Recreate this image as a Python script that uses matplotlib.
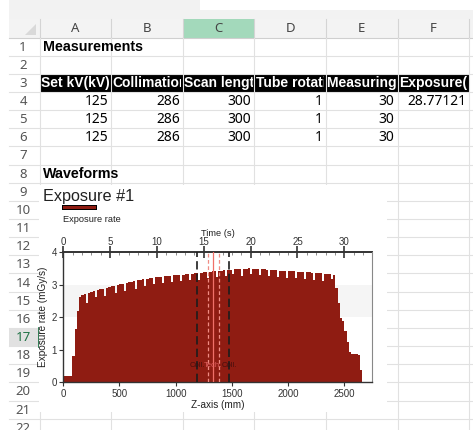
import numpy as np
import matplotlib.pyplot as plt
from matplotlib.patches import Rectangle, Polygon
from matplotlib.lines import Line2D
import matplotlib.patheffects as pe
from matplotlib.ticker import MultipleLocator

W, H = 473, 430

# --- sheet contents ---
col_letters = ['A', 'B', 'C', 'D', 'E', 'F']
header_cells = ['Set kV(kV)', 'Collimation', 'Scan length', 'Tube rotation',
                'Measuring time', 'Exposure(mGy)']
table_rows = [
    ['125', '286', '300', '1', '30', '28.77121'],
    ['125', '286', '300', '1', '30', ''],
    ['125', '286', '300', '1', '30', ''],
]
n_rows = 22

# --- chart data: exposure rate (mGy/s), one value every 20 mm along z ---
z_step = 20
rate = [
    0.18, 0.18, 0.18, 0.19, 0.81, 1.63, 2.20, 2.63, 2.68, 2.72,
    2.45, 2.76, 2.78, 2.80, 2.62, 2.83, 2.86, 2.88, 2.66, 2.91,
    2.93, 2.95, 2.97, 2.75, 3.00, 3.02, 3.04, 2.80, 3.07, 3.08,
    3.10, 3.11, 2.88, 3.14, 3.16, 3.17, 2.95, 3.19, 3.20, 3.21,
    3.02, 3.23, 3.24, 3.25, 3.05, 3.26, 3.27, 3.28, 3.10, 3.29,
    3.30, 3.30, 3.12, 3.31, 3.32, 3.33, 3.15, 3.34, 3.35, 3.36,
    3.15, 3.37, 3.38, 3.39, 3.22, 3.40, 3.41, 3.42, 3.25, 3.43,
    3.44, 3.45, 3.28, 3.46, 3.47, 3.32, 3.48, 3.48, 3.49, 3.28,
    3.50, 3.50, 3.51, 3.33, 3.50, 3.49, 3.49, 3.30, 3.48, 3.48,
    3.47, 3.28, 3.46, 3.46, 3.45, 3.25, 3.44, 3.44, 3.43, 3.22,
    3.42, 3.42, 3.41, 3.20, 3.40, 3.40, 3.39, 3.18, 3.38, 3.38,
    3.37, 3.15, 3.36, 3.36, 3.35, 3.12, 3.34, 3.34, 3.33, 3.18,
    3.30, 2.89, 2.45, 1.97, 1.90, 1.58, 1.25, 0.92, 0.87, 0.87,
    0.86, 0.85, 0.38, 0.00, 0.00, 0.00, 0.00,
]
coll_z = [1190, 1478]
tech_edges = [1285, 1385]
tech_z = 1335
mm_per_s = 2500 / 30

# sheet geometry (pixels)
col_x = [39.5 + 71.6 * i for i in range(7)]
row_top0, row_h = 37.5, 18.15


def row_top(k):
    return row_top0 + (k - 1) * row_h


CELL_FONT = 'Noto Sans'
BOLD_FONT = 'Liberation Sans'
CHART_FONT = 'Liberation Sans'
bar_color = '#8f1c12'
grid_c = '#e1e1e1'

fig = plt.figure(figsize=(W / 100, H / 100), dpi=100)
bg = fig.add_axes([0, 0, 1, 1])
bg.set_xlim(0, W)
bg.set_ylim(H, 0)
bg.axis('off')

# top bars
bg.add_patch(Rectangle((9, 0), W, 19, color='#f2f2f2', lw=0))
bg.add_patch(Rectangle((200, 0), W, 9.5, color='white', lw=0))
# column header row
bg.add_patch(Rectangle((9, 19), W, 18.5, color='#f3f3f3', lw=0))
bg.add_patch(Rectangle((col_x[2], 19), col_x[3] - col_x[2], 18.5, color='#a3d9bb', lw=0))
bg.add_patch(Polygon([[36, 24], [36, 35], [25, 35]], color='#d9d9d9', lw=0))
for x in col_x:
    bg.plot([x, x], [19, 37.5], color='#d4d4d4', lw=0.8)
bg.plot([9, W], [37.5, 37.5], color='#cfcfcf', lw=0.8)
for i, c in enumerate(col_letters):
    bg.text((col_x[i] + col_x[i + 1]) / 2, 28.5, c, ha='center', va='center',
            fontsize=9.5, family=CELL_FONT, color='#444444')

# gridlines
for k in range(2, n_rows + 2):
    y = row_top(k)
    bg.plot([9, W], [y, y], color=grid_c, lw=0.8)
for x in col_x:
    bg.plot([x, x], [37.5, H], color=grid_c, lw=0.8)

# row headers
bg.add_patch(Rectangle((9, row_top(17)), col_x[0] - 9, row_h, color='#e1e1e1', lw=0))
bg.plot([col_x[0] - 0.5, col_x[0] - 0.5], [row_top(17), row_top(18)], color='#217346', lw=2)
for k in range(1, n_rows + 1):
    bg.text(23, row_top(k) + row_h / 2 + 0.5, str(k), ha='center', va='center',
            fontsize=9.5, family=CELL_FONT,
            color='#217346' if k == 17 else '#555555')

# table
bg.text(col_x[0] + 3, row_top(1) + row_h / 2, 'Measurements', ha='left', va='center',
        fontsize=10.3, fontweight='bold', family=BOLD_FONT, color='black')
bg.add_patch(Rectangle((col_x[0], row_top(3)), col_x[6] - col_x[0], row_h,
                       color='black', lw=0))
for i, h in enumerate(header_cells):
    t = bg.text(col_x[i] + 1.5, row_top(3) + row_h / 2, h, ha='left', va='center',
                fontsize=10, fontweight='bold', family=BOLD_FONT, color='white')
    t.set_clip_path(Rectangle((col_x[i], row_top(3)), col_x[i + 1] - col_x[i] - 1.5, row_h,
                              transform=bg.transData))
    t.set_clip_on(True)
for r, vals in enumerate(table_rows):
    for i, v in enumerate(vals):
        if v:
            bg.text(col_x[i + 1] - 3, row_top(4 + r) + row_h / 2, v, ha='right',
                    va='center', fontsize=10, family=CELL_FONT, color='black')
bg.text(col_x[0] + 3, row_top(8) + row_h / 2, 'Waveforms', ha='left', va='center',
        fontsize=10.3, fontweight='bold', family=BOLD_FONT, color='black')

# chart area
bg.add_patch(Rectangle((38.5, 184.5), 387 - 38.5, 412 - 184.5, color='white', lw=0, zorder=3))
bg.text(43, 196, 'Exposure #1', ha='left', va='center', fontsize=11.7,
        family=CHART_FONT, color='#222222', zorder=4)
leg = Line2D([64, 94], [207, 207], color=bar_color, lw=2.2, zorder=4,
             path_effects=[pe.Stroke(linewidth=3.6, foreground='black'), pe.Normal()])
bg.add_line(leg)
bg.text(63, 219.5, 'Exposure rate', ha='left', va='center', fontsize=6.7,
        family=CHART_FONT, color='#222222', zorder=4)

ax = fig.add_axes([63.3 / W, 1 - 382.3 / H, (371.7 - 63.3) / W, 130 / H])
ax.set_facecolor('none')
z_edges = z_step * np.arange(len(rate) + 1)
ax.axhspan(2, 3, color='#f5f5f5', lw=0, zorder=0)
ax.stairs(rate, z_edges, fill=True, color=bar_color, lw=0, zorder=2)
ax.set_xlim(0, 2744)
ax.set_ylim(0, 4)

for c in coll_z:
    ax.axvline(c, color='#1c1c1c', lw=1.2, ls=(0, (5, 2.5)), zorder=3)
for c in tech_edges:
    ax.axvline(c, color='#f08c84', lw=0.9, ls=(0, (3, 2)), zorder=3)
ax.axvline(tech_z, color='#f07068', lw=0.9, zorder=3)
ax.text(coll_z[0], 0.53, 'Coll.', ha='center', va='center', fontsize=5.5,
        family=CHART_FONT, color='#3a0c0c', alpha=0.85, zorder=4)
ax.text(coll_z[1], 0.53, 'Coll.', ha='center', va='center', fontsize=5.5,
        family=CHART_FONT, color='#3a0c0c', alpha=0.85, zorder=4)
ax.text(tech_z, 0.53, 'Tech.', ha='center', va='center', fontsize=5.5,
        family=CHART_FONT, color='#e06060', zorder=4)

ax.xaxis.set_major_locator(MultipleLocator(500))
ax.yaxis.set_major_locator(MultipleLocator(1))
ax.tick_params(axis='both', direction='out', length=3, width=0.8, colors='#333333',
               labelsize=7, pad=1.5)
for lab in ax.get_xticklabels() + ax.get_yticklabels():
    lab.set_family(CHART_FONT)
ax.set_xlabel('Z-axis (mm)', fontsize=7.2, family=CHART_FONT, color='#222222', labelpad=1)
ax.set_ylabel('Exposure rate (mGy/s)', fontsize=7.2, family=CHART_FONT, color='#222222',
              labelpad=3)
ax.spines['top'].set_visible(False)
for s in ['left', 'bottom']:
    ax.spines[s].set_color('#333333')
    ax.spines[s].set_linewidth(1)
ax.spines['right'].set_color('#888888')
ax.spines['right'].set_linewidth(0.8)

top = ax.secondary_xaxis('top', functions=(lambda z: z / mm_per_s, lambda t: t * mm_per_s))
top.xaxis.set_major_locator(MultipleLocator(5))
top.xaxis.set_minor_locator(MultipleLocator(1))
top.tick_params(which='major', direction='inout', length=8, width=1.2, colors='#333333',
                labelsize=7, pad=-0.5)
top.tick_params(which='minor', direction='in', length=2.5, width=0.6, colors='#777777')
for lab in top.get_xticklabels():
    lab.set_family(CHART_FONT)
top.spines['top'].set_color('#333333')
top.spines['top'].set_linewidth(1.4)
top.set_xlabel('Time (s)', fontsize=6.7, family=CHART_FONT, color='#222222', labelpad=1)

fig.savefig('out.png', dpi=100)
